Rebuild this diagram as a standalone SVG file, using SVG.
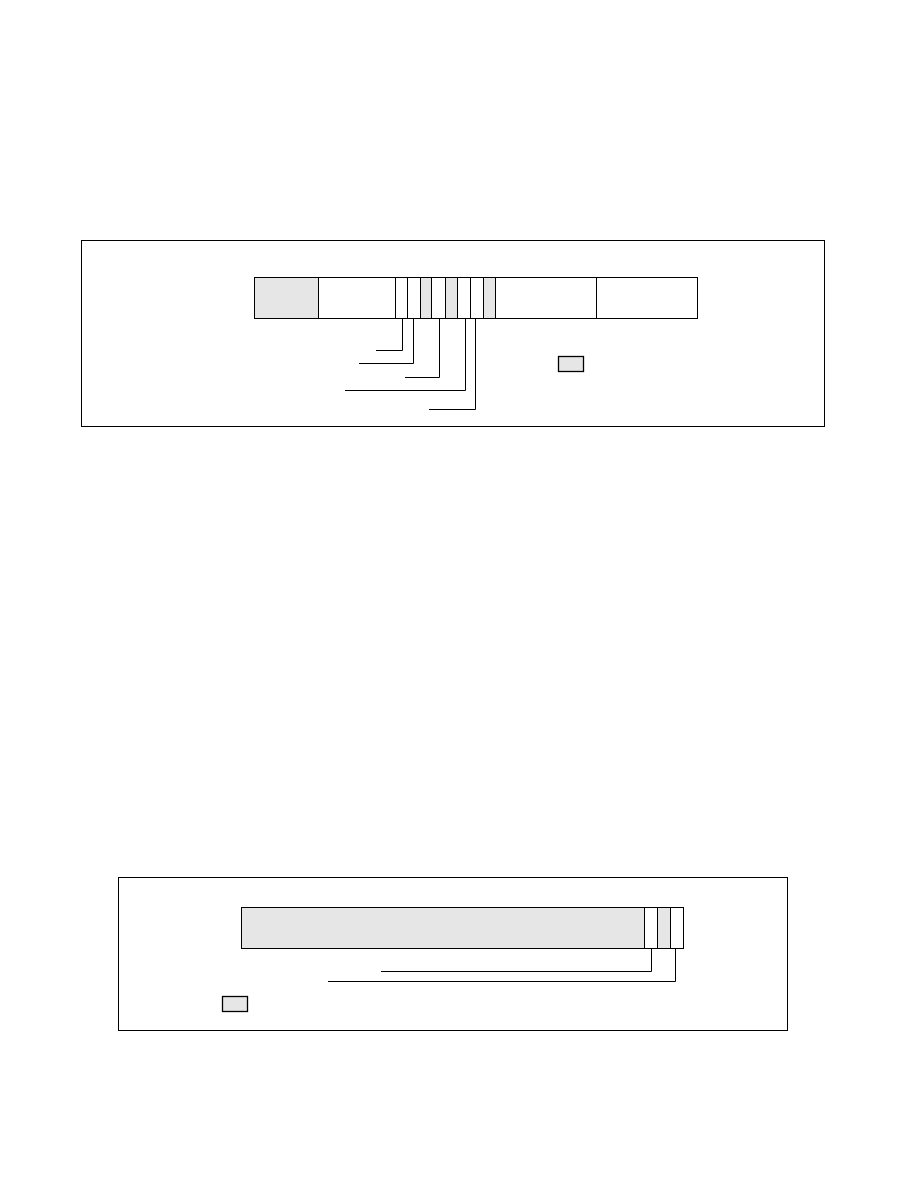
<svg xmlns="http://www.w3.org/2000/svg" width="918" height="1188" viewBox="0 0 918 1188">
<style>
.frame{fill:none;stroke:#000;stroke-width:1}
.cell{fill:#fff;stroke:#000;stroke-width:1}
.g{fill:#e6e6e6;stroke:#000;stroke-width:1}
.lead{fill:none;stroke:#000;stroke-width:1}
.key{fill:#e6e6e6;stroke:#000;stroke-width:1.3}
</style>
<rect width="918" height="1188" fill="#fff"/>
<g id="frame-top"><rect class="frame" x="81.5" y="240.5" width="743" height="186"/></g>
<g id="register-top">
<rect class="g" x="254.5" y="277.5" width="64" height="41"/>
<rect class="cell" x="318.5" y="277.5" width="77" height="41"/>
<rect class="cell" x="395.5" y="277.5" width="12" height="41"/>
<rect class="cell" x="407.5" y="277.5" width="13" height="41"/>
<rect class="g" x="420.5" y="277.5" width="11" height="41"/>
<rect class="cell" x="431.5" y="277.5" width="14" height="41"/>
<rect class="g" x="445.5" y="277.5" width="12" height="41"/>
<rect class="cell" x="457.5" y="277.5" width="13" height="41"/>
<rect class="cell" x="470.5" y="277.5" width="13" height="41"/>
<rect class="g" x="483.5" y="277.5" width="12" height="41"/>
<rect class="cell" x="495.5" y="277.5" width="101" height="41"/>
<rect class="cell" x="596.5" y="277.5" width="101" height="41"/>
</g>
<g id="key-top"><rect class="key" x="558.5" y="356.5" width="25" height="15"/></g>
<g id="connectors-top">
<polyline class="lead" points="402.5,318.5 402.5,350.5 376,350.5"/>
<polyline class="lead" points="413.5,318.5 413.5,363.5 359,363.5"/>
<polyline class="lead" points="439.5,318.5 439.5,377.5 405,377.5"/>
<polyline class="lead" points="465.5,318.5 465.5,390.5 345,390.5"/>
<polyline class="lead" points="475.5,318.5 475.5,409.5 429,409.5"/>
</g>
<g id="frame-bottom"><rect class="frame" x="118.5" y="877.5" width="669" height="153"/></g>
<g id="register-bottom">
<rect class="g" x="241.5" y="907.5" width="403" height="41"/>
<rect class="cell" x="644.5" y="907.5" width="13" height="41"/>
<rect class="g" x="657.5" y="907.5" width="13" height="41"/>
<rect class="cell" x="670.5" y="907.5" width="13" height="41"/>
</g>
<g id="key-bottom"><rect class="key" x="222.5" y="996.5" width="25" height="15"/></g>
<g id="connectors-bottom">
<polyline class="lead" points="651.5,948.5 651.5,971.5 381,971.5"/>
<polyline class="lead" points="675.5,948.5 675.5,981.5 328,981.5"/>
</g>
</svg>
